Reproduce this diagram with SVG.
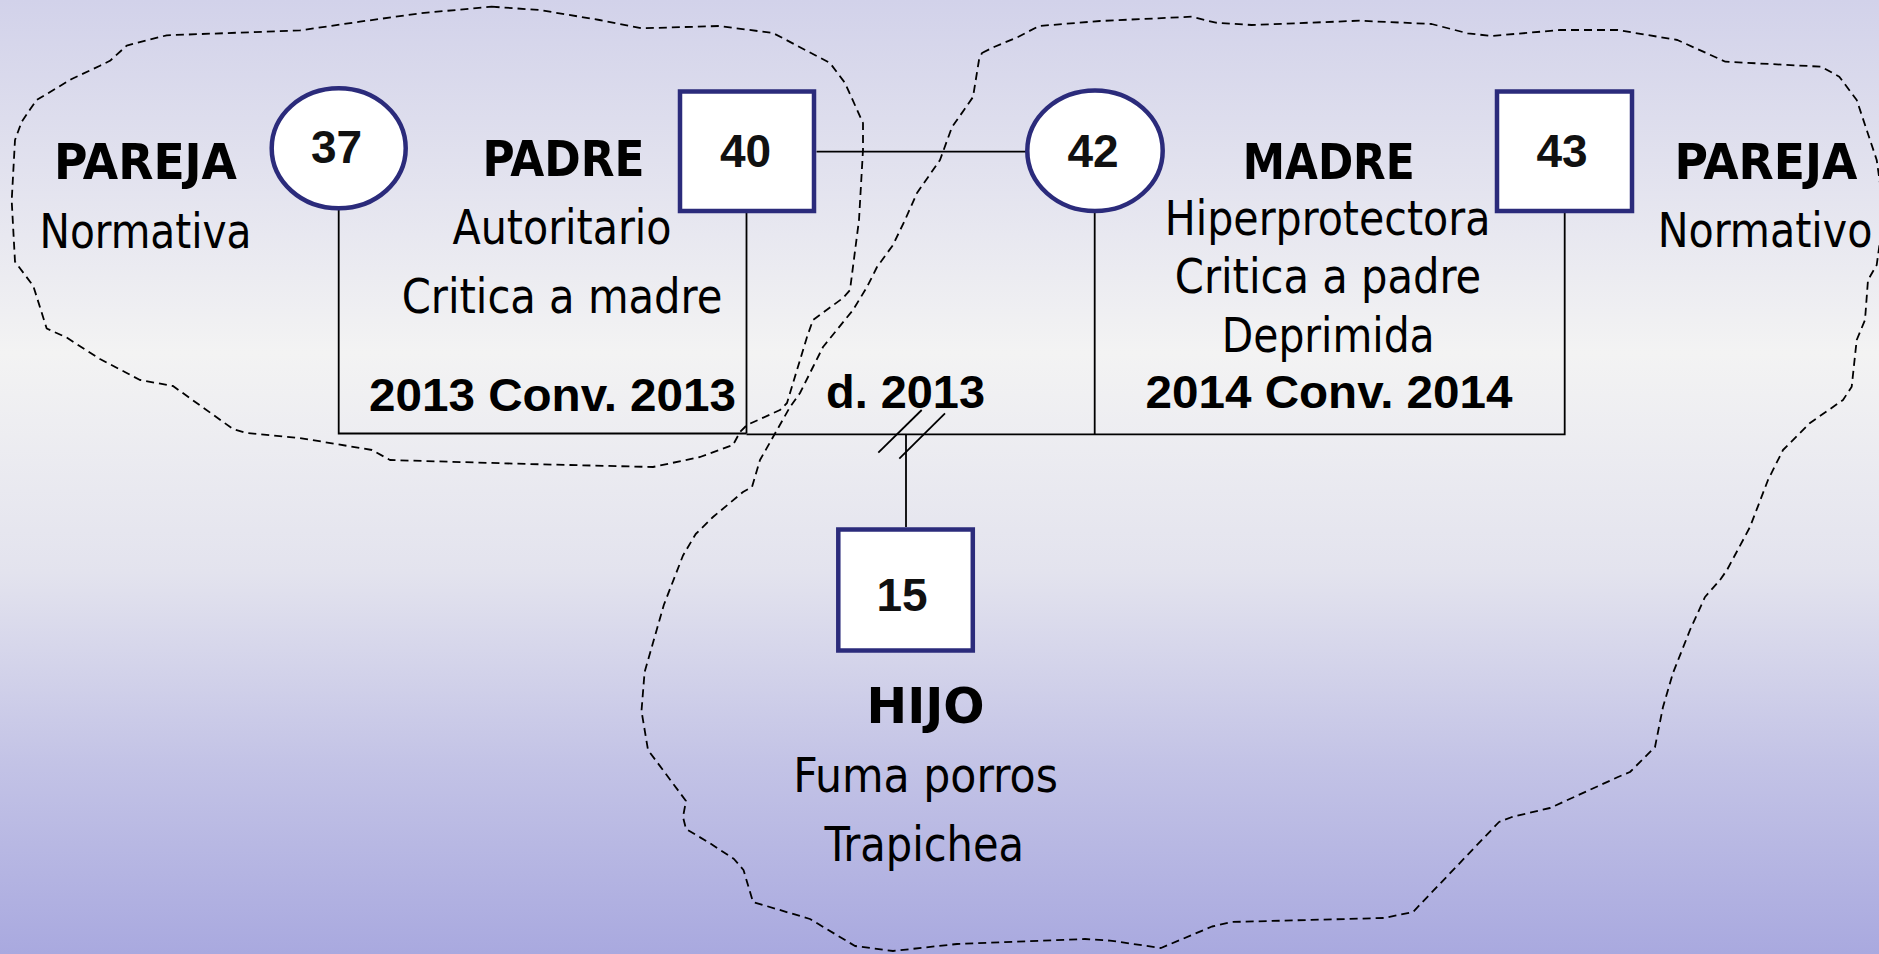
<svg xmlns="http://www.w3.org/2000/svg" width="1879" height="954" viewBox="0 0 1879 954">
<defs>
<linearGradient id="bg" x1="0" y1="0" x2="0" y2="1">
<stop offset="0" stop-color="#d2d2ea"/>
<stop offset="0.37" stop-color="#f3f3f3"/>
<stop offset="0.6" stop-color="#e3e3ee"/>
<stop offset="0.8" stop-color="#c3c3e6"/>
<stop offset="1" stop-color="#a9a9df"/>
</linearGradient>
<style>
.node{fill:#ffffff;stroke:#2b2b7b;stroke-width:4.5}
.line{fill:none;stroke:#000000;stroke-width:1.8}
.cloud{fill:none;stroke:#000000;stroke-width:1.8;stroke-dasharray:8 5;stroke-linejoin:round}
.num{font-family:"Liberation Sans",Arial,sans-serif;font-weight:bold;font-size:46px;text-anchor:middle;fill:#111111}
.yr{font-family:"Liberation Sans",Arial,sans-serif;font-weight:bold;font-size:46px;text-anchor:middle;fill:#000000}
.role{font-family:"DejaVu Sans Condensed","DejaVu Sans",sans-serif;font-weight:bold;font-size:49px;text-anchor:middle;fill:#000000}
.desc{font-family:"DejaVu Sans Condensed","DejaVu Sans",sans-serif;font-size:48px;text-anchor:middle;fill:#000000}
</style>
</defs>
<rect x="0" y="0" width="1879" height="954" fill="url(#bg)"/>
<g id="clouds">
<path class="cloud" d="M491.6,6.7 L539.6,10 L599.5,20 L641.5,28.3 L719,26 L773,33 L830,63 L845,83 L863,123 L863,150 L859,220 L850,290 L843,298 L813,320 L807,337 L797,370 L787,403 L780,410 L747,425 L740,432 L733,445 L700,457 L653,467 L527,464 L390,460 L372,450 L300,438 L246.7,433 L233,429 L173,386 L140,380 L100,359 L66.7,337.6 L46.7,328.5 L33.3,286 L15,261.6 L11.7,200.7 L15,140 L21.7,121.7 L30,109.5 L36.7,100 L71.7,79 L100,65.7 L110,60.8 L126.7,45.6 L166.7,35.3 L300,30.4 L360,21.7 L420,13.3 Z"/>
<path class="cloud" d="M982,53 L994,47 L1018,37 L1039,26 L1100,21 L1191.8,16.7 L1215.8,22.7 L1251.7,25 L1359.7,20.7 L1431.6,24 L1467.6,33.3 L1491.6,36 L1560,30 L1617.5,30 L1677.4,40 L1725.4,61.7 L1821.3,66.7 L1839.3,76.7 L1856.7,100 L1876.7,160 L1884,212 L1876.7,265 L1868,280 L1865,320 L1856.7,340 L1851.7,386.7 L1843,400 L1810,423 L1783,450 L1768,480 L1750,527 L1727,570 L1720,580 L1705,597 L1690,630 L1673,673 L1663,707 L1655,747 L1630,772 L1618,777 L1550,808 L1512,817 L1499,822 L1413,912 L1384,918 L1231,922 L1212,926.5 L1161,948 L1110,940.6 L1085,939 L957,944 L893,951 L855,946 L810,919 L753,902 L743.5,870 L734,859 L708,842 L686,829 L683,817 L686,801 L648,750 L641.5,711 L644.6,672 L663.8,605 L683,555.5 L695.7,534 L713,517 L743,492 L752,487 L760,460 L777,430 L790,407 L800,393 L813,367 L823,347 L853,310 L867,287 L877,267 L893,245 L905,220 L917,193 L940,160 L952,127 L964,110 L973,97 L979,60 Z"/>
</g>
<g id="connectors">
<line class="line" x1="816.5" y1="151.7" x2="1026" y2="151.7"/>
<polyline class="line" points="338.7,210 338.7,433.5 746.5,433.5"/>
<line class="line" x1="746.5" y1="213" x2="746.5" y2="433.5"/>
<polyline class="line" points="746.5,434.3 1564.7,434.3 1564.7,213"/>
<line class="line" x1="1094.7" y1="213" x2="1094.7" y2="434.3"/>
<line class="line" x1="906" y1="434.3" x2="906" y2="527"/>
<line class="line" x1="921.7" y1="410" x2="878.3" y2="452.7"/>
<line class="line" x1="945" y1="413.3" x2="899.3" y2="458.7"/>
<text class="yr" x="552.5" y="411" textLength="367" lengthAdjust="spacingAndGlyphs">2013 Conv. 2013</text>
<text class="yr" x="905.5" y="408.3" textLength="159" lengthAdjust="spacingAndGlyphs">d. 2013</text>
<text class="yr" x="1329" y="408.3" textLength="367" lengthAdjust="spacingAndGlyphs">2014 Conv. 2014</text>
</g>
<g id="node-37">
<ellipse class="node" cx="338.7" cy="148.3" rx="67" ry="60"/>
<text class="num" x="336.6" y="163.3">37</text>
<text class="role" x="145.5" y="179" textLength="183" lengthAdjust="spacingAndGlyphs">PAREJA</text>
<text class="desc" x="145.5" y="248" textLength="212" lengthAdjust="spacingAndGlyphs">Normativa</text>
</g>
<g id="node-40">
<rect class="node" x="680" y="91.5" width="134" height="119.5"/>
<text class="num" x="745.5" y="166.7">40</text>
<text class="role" x="563.6" y="175.7" textLength="162" lengthAdjust="spacingAndGlyphs">PADRE</text>
<text class="desc" x="562" y="244.3" textLength="219" lengthAdjust="spacingAndGlyphs">Autoritario</text>
<text class="desc" x="562" y="313.3" textLength="320.7" lengthAdjust="spacingAndGlyphs">Critica a madre</text>
</g>
<g id="node-42">
<ellipse class="node" cx="1095" cy="150.8" rx="67.7" ry="60.3"/>
<text class="num" x="1093" y="166.7">42</text>
<text class="role" x="1328.8" y="179" textLength="172" lengthAdjust="spacingAndGlyphs">MADRE</text>
<text class="desc" x="1327.6" y="235" textLength="325.6" lengthAdjust="spacingAndGlyphs">Hiperprotectora</text>
<text class="desc" x="1328" y="293.3" textLength="306.4" lengthAdjust="spacingAndGlyphs">Critica a padre</text>
<text class="desc" x="1328.2" y="351.7" textLength="212.8" lengthAdjust="spacingAndGlyphs">Deprimida</text>
</g>
<g id="node-43">
<rect class="node" x="1497" y="91.5" width="135" height="119.5"/>
<text class="num" x="1562" y="166.7">43</text>
<text class="role" x="1765.9" y="179" textLength="183" lengthAdjust="spacingAndGlyphs">PAREJA</text>
<text class="desc" x="1765" y="246.7" textLength="214.7" lengthAdjust="spacingAndGlyphs">Normativo</text>
</g>
<g id="node-15">
<rect class="node" x="838.3" y="529.5" width="134.5" height="121"/>
<text class="num" x="902" y="611">15</text>
<text class="role" x="925.6" y="723.3" textLength="118" lengthAdjust="spacingAndGlyphs">HIJO</text>
<text class="desc" x="925.5" y="792.2" textLength="264.7" lengthAdjust="spacingAndGlyphs">Fuma porros</text>
<text class="desc" x="924.3" y="861" textLength="199.5" lengthAdjust="spacingAndGlyphs">Trapichea</text>
</g>
</svg>
